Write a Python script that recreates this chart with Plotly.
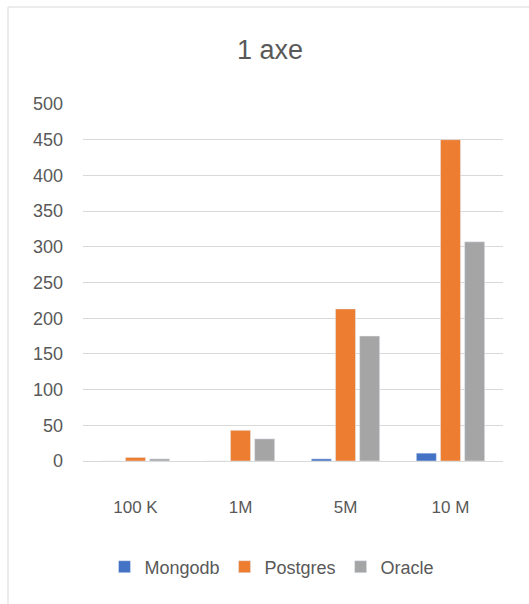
import plotly.graph_objects as go

categories = ["100 K", "1M", "5M", "10 M"]
mongodb = [0, 0, 3, 11]
postgres = [5, 43, 213, 450]
oracle = [3, 31, 175, 307]
y_ticks = [0, 50, 100, 150, 200, 250, 300, 350, 400, 450, 500]

W, H = 529, 604
L, R, T, B = 83, 26, 104, 143
pw, ph = W - L - R, H - T - B

fig = go.Figure()
fig.add_trace(go.Bar(name="Mongodb", x=categories, y=mongodb, marker_color="#4472C4"))
fig.add_trace(go.Bar(name="Postgres", x=categories, y=postgres, marker_color="#ED7D31"))
fig.add_trace(go.Bar(name="Oracle", x=categories, y=oracle, marker_color="#A5A5A5"))

font_fam = "Liberation Sans, Arial, sans-serif"
fig.update_layout(
    width=W, height=H,
    margin=dict(l=L, r=R, t=T, b=B),
    paper_bgcolor="white", plot_bgcolor="white",
    barmode="group", bargap=0.31, bargroupgap=0.17,
    font=dict(family=font_fam, color="#595959", size=17),
    title=dict(text="1 axe", x=270 / W, xref="container", xanchor="center",
               y=1 - 50 / H, yref="container", yanchor="middle",
               font=dict(size=27, color="#595959", family=font_fam)),
    legend=dict(orientation="h", x=(272 - L) / pw, xanchor="center",
                y=(H - B - 567) / ph, yanchor="middle",
                font=dict(size=18, color="#595959"), itemwidth=30,
                traceorder="normal"),
    showlegend=True,
)
fig.update_yaxes(range=[0, 500], tickvals=y_ticks, showgrid=True, gridcolor="#D9D9D9",
                 gridwidth=1, zeroline=False, showline=False, ticks="",
                 ticklabelstandoff=19, tickfont=dict(size=18, color="#595959"))
fig.update_xaxes(showgrid=False, showline=True, linecolor="#D9D9D9", linewidth=1,
                 ticks="", ticklabelstandoff=31, tickfont=dict(size=17, color="#595959"))

# chart frame
fig.add_shape(type="rect", xref="paper", yref="paper",
              x0=(8 - L) / pw, x1=(W + 20 - L) / pw,
              y0=(H - B - (H + 20)) / ph, y1=(H - B - 7) / ph,
              line=dict(color="#D9D9D9", width=1), fillcolor="rgba(0,0,0,0)", layer="below")

fig.write_html("out.html")
